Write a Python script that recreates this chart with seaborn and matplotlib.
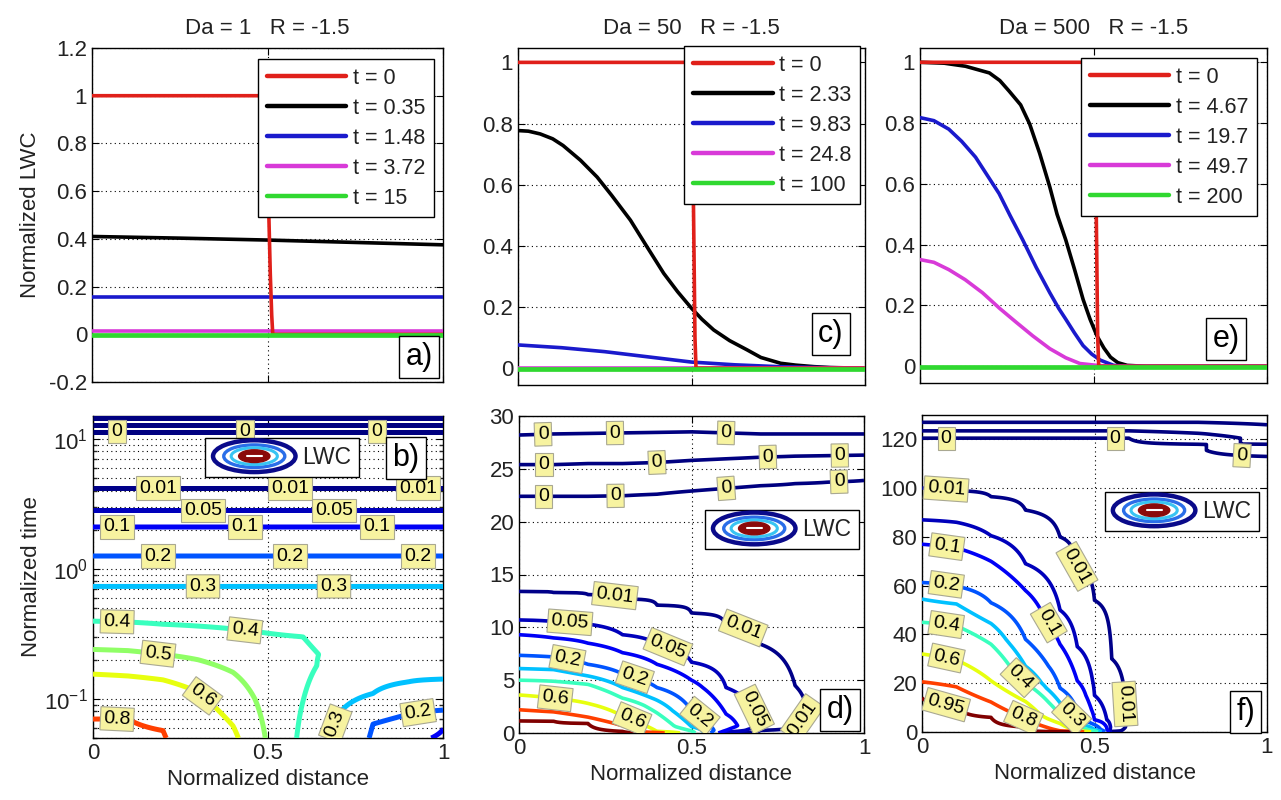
import numpy as np
import matplotlib
matplotlib.use("Agg")
import matplotlib.pyplot as plt
import seaborn as sns
from matplotlib.legend_handler import HandlerBase
from matplotlib.patches import Ellipse
from matplotlib.lines import Line2D
from matplotlib.ticker import FuncFormatter, LogLocator, NullFormatter, FixedLocator

# ------------------------------------------------------------------ data
titles = ["Da = 1   R = -1.5", "Da = 50   R = -1.5", "Da = 500   R = -1.5"]
letters_top = ["a)", "c)", "e)"]
letters_bot = ["b)", "d)", "f)"]
labels_a = ["t = 0", "t = 0.35", "t = 1.48", "t = 3.72", "t = 15"]
labels_c = ["t = 0", "t = 2.33", "t = 9.83", "t = 24.8", "t = 100"]
labels_e = ["t = 0", "t = 4.67", "t = 19.7", "t = 49.7", "t = 200"]
line_colors = ["#e0201a", "#000000", "#1a1acc", "#d83ad8", "#30d830"]

# panel a (Da = 1) profiles
a_red_x = [0, 0.5, 0.503, 0.508, 0.512, 0.515, 1.0]
a_red_y = [1.0, 1.0, 0.55, 0.25, 0.08, 0.0, 0.0]
a_black_x = [0, 0.25, 0.5, 0.75, 1.0]
a_black_y = [0.41, 0.403, 0.395, 0.385, 0.375]
a_blue_x = [0, 1.0]
a_blue_y = [0.158, 0.158]
a_mag_x = [0, 1.0]
a_mag_y = [0.012, 0.012]
a_green_x = [0, 1.0]
a_green_y = [-0.002, -0.002]

# panel c (Da = 50) profiles
c_red_x = [0, 0.5, 0.505, 0.508, 0.51, 0.513, 1.0]
c_red_y = [1.0, 1.0, 0.6, 0.3, 0.1, 0.0, 0.0]
c_black_x = [0, 0.03, 0.064, 0.1, 0.13, 0.18, 0.228, 0.27, 0.324, 0.37, 0.42, 0.46,
             0.5, 0.53, 0.564, 0.61, 0.66, 0.7, 0.757, 0.8, 0.853, 0.9, 1.0]
c_black_y = [0.777, 0.775, 0.766, 0.75, 0.728, 0.68, 0.625, 0.565, 0.484, 0.4, 0.31, 0.25,
             0.196, 0.16, 0.125, 0.09, 0.06, 0.035, 0.016, 0.01, 0.005, 0.002, 0.0]
c_blue_x = [0, 0.125, 0.25, 0.375, 0.5, 0.625, 0.75, 0.875, 1.0]
c_blue_y = [0.076, 0.067, 0.054, 0.037, 0.02, 0.011, 0.005, 0.002, 0.0]
c_mag_x = [0, 1.0]
c_mag_y = [0.002, 0.002]
c_green_x = [0, 1.0]
c_green_y = [-0.004, -0.004]

# panel e (Da = 500) profiles
e_red_x = [0, 0.505, 0.507, 0.51, 0.512, 0.515, 1.0]
e_red_y = [1.0, 1.0, 0.6, 0.3, 0.1, 0.0, 0.0]
e_black_x = [0, 0.07, 0.131, 0.2, 0.23, 0.257, 0.29, 0.316, 0.345, 0.374, 0.395, 0.42,
             0.445, 0.47, 0.49, 0.51, 0.53, 0.549, 0.57, 0.597, 0.65, 1.0]
e_black_y = [1.0, 0.997, 0.987, 0.965, 0.94, 0.905, 0.86, 0.797, 0.70, 0.59, 0.50, 0.416,
             0.32, 0.22, 0.155, 0.10, 0.06, 0.03, 0.012, 0.003, 0.0, 0.0]
e_blue_x = [0, 0.04, 0.083, 0.12, 0.16, 0.19, 0.228, 0.26, 0.296, 0.335, 0.374, 0.4,
            0.42, 0.445, 0.47, 0.495, 0.52, 0.558, 0.6, 1.0]
e_blue_y = [0.818, 0.808, 0.78, 0.74, 0.688, 0.635, 0.568, 0.495, 0.416, 0.325, 0.242, 0.19,
            0.155, 0.11, 0.068, 0.04, 0.02, 0.003, 0.0, 0.0]
e_mag_x = [0, 0.04, 0.083, 0.13, 0.18, 0.23, 0.277, 0.325, 0.374, 0.42, 0.461, 0.51, 0.55, 1.0]
e_mag_y = [0.351, 0.342, 0.318, 0.285, 0.242, 0.19, 0.145, 0.1, 0.058, 0.028, 0.009, 0.003, 0.0, 0.0]
e_green_x = [0, 1.0]
e_green_y = [-0.002, -0.002]

# contour levels
b_levels = [0, 0.01, 0.05, 0.1, 0.2, 0.3, 0.4, 0.5, 0.6, 0.8]
d_levels = [0, 0.01, 0.05, 0.1, 0.2, 0.3, 0.4, 0.6, 0.8, 0.95]
f_levels = [0, 0.01, 0.05, 0.1, 0.2, 0.3, 0.4, 0.6, 0.8, 0.95]

# panel b (Da = 1): LWC read along columns of normalized distance (log time)
b_x = [0.0, 0.1, 0.2, 0.3, 0.4, 0.5, 0.6, 0.7, 0.8, 0.9, 1.0]
b_t_early = [[0.05, 0.07, 0.155, 0.24, 0.396],
             [0.05, 0.07, 0.15, 0.235, 0.39],
             [0.05, 0.057, 0.09, 0.14, 0.22, 0.375],
             [0.05, 0.113, 0.2, 0.363],
             [0.05, 0.062, 0.16, 0.345],
             [0.05, 0.1, 0.2, 0.32],
             [0.05, 0.096, 0.18, 0.3],
             [0.05, 0.075, 0.22, 0.4],
             [0.05, 0.064, 0.11, 0.25],
             [0.05, 0.076, 0.135, 0.3],
             [0.05, 0.058, 0.082, 0.142, 0.3]]
b_c_early = [[0.85, 0.8, 0.6, 0.5, 0.4],
             [0.84, 0.8, 0.6, 0.5, 0.4],
             [0.81, 0.8, 0.7, 0.6, 0.5, 0.4],
             [0.7, 0.6, 0.5, 0.4],
             [0.62, 0.6, 0.5, 0.4],
             [0.49, 0.47, 0.44, 0.4],
             [0.38, 0.4, 0.42, 0.4],
             [0.28, 0.3, 0.385, 0.36],
             [0.19, 0.2, 0.3, 0.36],
             [0.12, 0.2, 0.3, 0.35],
             [0.09, 0.1, 0.2, 0.3, 0.35]]
b_t_late = [0.733, 1.256, 2.1, 2.82, 4.17, 8.0, 11.4, 12.1, 12.8, 13.6, 14.4, 15.0]
b_c_late = [0.3, 0.2, 0.1, 0.05, 0.01, 0.002, 0.0, -0.001, 0.0, 0.001, 0.0, -0.001]

# panel d (Da = 50)
d_x = [0.0, 0.1, 0.2, 0.3, 0.4, 0.5, 0.6, 0.7, 0.8, 0.9, 1.0]
d_t_cols = [
    [0, 1.15, 2.2, 3.6, 4.3, 5.0, 6.1, 7.35, 9.3, 10.7, 13.4, 18, 22.4, 23.9, 25.4, 26.8, 28.2, 30],
    [0, 1.12, 2.0, 3.3, 4.2, 4.9, 6.0, 7.2, 9.0, 10.55, 13.3, 18, 22.4, 23.9, 25.4, 26.8, 28.3, 30],
    [0, 0.9, 1.5, 2.8, 3.8, 4.6, 5.4, 6.5, 8.5, 10.3, 13.1, 18, 22.4, 23.9, 25.5, 26.9, 28.35, 30],
    [0, 0.15, 0.7, 1.6, 2.6, 3.3, 4.3, 5.6, 7.6, 9.3, 12.7, 18, 22.45, 23.95, 25.5, 27.0, 28.4, 30],
    [0, 0.05, 0.15, 0.7, 1.9, 3.1, 4.3, 6.5, 8.4, 12.1, 18, 22.6, 24.1, 25.6, 27.0, 28.45, 30],
    [0, 0.6, 2.1, 5.0, 6.7, 11.35, 18, 22.9, 24.35, 25.8, 27.15, 28.5, 30],
    [0, 0.1, 0.25, 0.7, 1.8, 4.3, 10.1, 18, 23.15, 24.55, 25.95, 27.2, 28.4, 30],
    [0, 0.25, 0.6, 1.5, 2.4, 5.0, 8.4, 18, 23.4, 24.75, 26.1, 27.2, 28.3, 30],
    [0, 0.76, 2.0, 4.5, 10, 18, 23.6, 24.9, 26.2, 27.25, 28.3, 30],
    [0, 1.5, 4, 10, 18, 23.75, 25.0, 26.25, 27.3, 28.3, 30],
    [0, 2, 5, 10, 18, 23.9, 25.1, 26.3, 27.3, 28.3, 30]]
d_c_cols = [
    [1, 0.95, 0.8, 0.6, 0.5, 0.4, 0.3, 0.2, 0.1, 0.05, 0.01, 0.003, 0, -0.0008, 0, 0.0008, 0, -0.001],
    [1, 0.95, 0.8, 0.6, 0.5, 0.4, 0.3, 0.2, 0.1, 0.05, 0.01, 0.003, 0, -0.0008, 0, 0.0008, 0, -0.001],
    [1, 0.95, 0.8, 0.6, 0.5, 0.4, 0.3, 0.2, 0.1, 0.05, 0.01, 0.003, 0, -0.0008, 0, 0.0008, 0, -0.001],
    [1, 0.95, 0.8, 0.6, 0.5, 0.4, 0.3, 0.2, 0.1, 0.05, 0.01, 0.003, 0, -0.0008, 0, 0.0008, 0, -0.001],
    [0.9, 0.8, 0.6, 0.5, 0.4, 0.3, 0.2, 0.1, 0.05, 0.01, 0.003, 0, -0.0008, 0, 0.0008, 0, -0.001],
    [0.45, 0.3, 0.2, 0.1, 0.05, 0.01, 0.003, 0, -0.0008, 0, 0.0008, 0, -0.001],
    [0.0005, 0.05, 0.1, 0.13, 0.1, 0.05, 0.01, 0.003, 0, -0.0008, 0, 0.0008, 0, -0.001],
    [0.0005, 0.01, 0.04, 0.047, 0.04, 0.02, 0.01, 0.003, 0, -0.0008, 0, 0.0008, 0, -0.001],
    [0.0005, 0.01, 0.013, 0.01, 0.005, 0.002, 0, -0.0008, 0, 0.0008, 0, -0.001],
    [0.0005, 0.005, 0.006, 0.004, 0.002, 0, -0.0008, 0, 0.0008, 0, -0.001],
    [0.0005, 0.003, 0.004, 0.003, 0.002, 0, -0.0008, 0, 0.0008, 0, -0.001]]

# panel f (Da = 500)
f_x = [0.0, 0.1, 0.2, 0.3, 0.4, 0.45, 0.5, 0.55, 0.6, 0.8, 1.0]
f_t_cols = [
    [0, 14, 20.6, 32, 45, 54.5, 61.3, 77, 87, 100, 110, 120.5, 122, 123.5, 125, 127, 130],
    [0, 11, 18.5, 29.5, 43.5, 52.5, 59.8, 75.5, 86, 99, 110, 120.5, 122, 123.5, 125, 127, 130],
    [0, 6, 12.3, 21, 36, 44.5, 53, 70, 80.5, 96.5, 110, 120.5, 122, 123.5, 125, 127, 130],
    [0, 2, 5.5, 12.5, 20, 27, 38, 58, 69, 91, 108, 120.5, 122, 123.5, 125, 127, 130],
    [0, 0.5, 3.5, 7, 12, 18, 36, 50, 80, 100, 120.5, 122, 123.5, 125, 127, 130],
    [0, 0.5, 2.5, 4, 9, 21, 35, 67, 95, 120.5, 122, 123.5, 125, 127, 130],
    [0, 1, 3, 5, 15, 54, 90, 120.5, 122, 123.5, 125, 127, 130],
    [0, 0.5, 2, 5, 30, 80, 120.5, 122, 123.5, 125, 127, 130],
    [0, 3, 20, 60, 100, 120.5, 122, 123.5, 125, 127, 130],
    [0, 20, 60, 100, 118, 120.5, 122.5, 124.5, 127, 130],
    [0, 20, 60, 100, 113, 115.5, 118, 122, 126, 130]]
f_c_cols = [
    [1, 0.95, 0.8, 0.6, 0.4, 0.3, 0.2, 0.1, 0.05, 0.01, 0.002, 0, -0.001, 0, 0.001, 0, -0.001],
    [1, 0.95, 0.8, 0.6, 0.4, 0.3, 0.2, 0.1, 0.05, 0.01, 0.002, 0, -0.001, 0, 0.001, 0, -0.001],
    [1, 0.95, 0.8, 0.6, 0.4, 0.3, 0.2, 0.1, 0.05, 0.01, 0.002, 0, -0.001, 0, 0.001, 0, -0.001],
    [1, 0.95, 0.8, 0.6, 0.4, 0.3, 0.2, 0.1, 0.05, 0.01, 0.002, 0, -0.001, 0, 0.001, 0, -0.001],
    [1, 0.8, 0.6, 0.4, 0.3, 0.2, 0.1, 0.05, 0.01, 0.002, 0, -0.001, 0, 0.001, 0, -0.001],
    [1, 0.6, 0.4, 0.3, 0.2, 0.1, 0.05, 0.01, 0.002, 0, -0.001, 0, 0.001, 0, -0.001],
    [0.5, 0.3, 0.2, 0.1, 0.05, 0.01, 0.002, 0, -0.001, 0, 0.001, 0, -0.001],
    [0.0005, 0.02, 0.035, 0.03, 0.01, 0.002, 0, -0.001, 0, 0.001, 0, -0.001],
    [0.0005, 0.005, 0.006, 0.003, 0.001, 0, -0.001, 0, 0.001, 0, -0.001],
    [0.0005, 0.002, 0.002, 0.001, 0, -0.001, 0, 0.001, 0, -0.001],
    [0.0005, 0.001, 0.001, 0.0008, 0, -0.001, 0, 0.001, 0, -0.001]]

# ------------------------------------------------------------------ style
sns.set_theme(style="ticks")
plt.rcParams["font.family"] = ["Liberation Sans", "DejaVu Sans"]
plt.rcParams["axes.unicode_minus"] = False
plt.rcParams["mathtext.default"] = "regular"
FS = 16
LFS = 15.5
CFS = 14
TXT = "#222222"

fig = plt.figure(figsize=(12.81, 8.0), dpi=100)
W, H = 1281.0, 800.0


def add_axes(l, r, t, b):
    return fig.add_axes([l / W, 1 - b / H, (r - l) / W, (b - t) / H])


ax_a = add_axes(92, 443, 48, 382)
ax_c = add_axes(518, 865, 48, 385)
ax_e = add_axes(920, 1267, 48, 383)
ax_b = add_axes(93, 443, 416, 738)
ax_d = add_axes(519, 864, 416, 733)
ax_f = add_axes(922, 1267, 415, 732)

gfmt = FuncFormatter(lambda v, p: f"{v:g}")


def style_axes(ax):
    ax.set_facecolor("white")
    for s in ax.spines.values():
        s.set_color("black")
        s.set_linewidth(1.0)
        s.set_visible(True)
    ax.tick_params(direction="in", length=5, width=0.8, top=True, right=True,
                   labelsize=FS, colors="black", labelcolor=TXT)
    ax.tick_params(which="minor", direction="in", length=3, top=True, right=True)
    ax.grid(True, which="major", linestyle=(0, (1, 3)), color="black", linewidth=0.8)


# ------------------------------------------------------------------ top row
top_specs = [
    (ax_a, labels_a, [(a_red_x, a_red_y), (a_black_x, a_black_y), (a_blue_x, a_blue_y),
                      (a_mag_x, a_mag_y), (a_green_x, a_green_y)],
     (-0.2, 1.2), np.arange(-0.2, 1.21, 0.2), (0.974, 0.967), (0.932, 0.075)),
    (ax_c, labels_c, [(c_red_x, c_red_y), (c_black_x, c_black_y), (c_blue_x, c_blue_y),
                      (c_mag_x, c_mag_y), (c_green_x, c_green_y)],
     (-0.055, 1.047), np.arange(0, 1.01, 0.2), (0.986, 1.006), (0.902, 0.151)),
    (ax_e, labels_e, [(e_red_x, e_red_y), (e_black_x, e_black_y), (e_blue_x, e_blue_y),
                      (e_mag_x, e_mag_y), (e_green_x, e_green_y)],
     (-0.055, 1.047), np.arange(0, 1.01, 0.2), (0.971, 0.97), (0.882, 0.131)),
]

for i, (ax, labs, series, ylim, yt, leg_anchor, let_pos) in enumerate(top_specs):
    style_axes(ax)
    handles = []
    for k, ((xs, ys), lab, col) in enumerate(zip(series, labs, line_colors)):
        lw = 3.4 if k == 4 else 2.6
        z = {0: 3.5, 4: 3.6}.get(k, 3)
        sns.lineplot(x=xs, y=ys, color=col, lw=lw, ax=ax, estimator=None, sort=False, zorder=z)
        handles.append(Line2D([], [], color=col, lw=3.2))
    ax.set_xlim(0, 1)
    ax.set_ylim(*ylim)
    ax.xaxis.set_major_locator(FixedLocator([0, 0.5, 1]))
    ax.yaxis.set_major_locator(FixedLocator(yt))
    ax.yaxis.set_major_formatter(gfmt)
    ax.set_xticklabels([])
    ax.set_title(titles[i], fontsize=FS, color=TXT, pad=10)
    leg = ax.legend(handles, labs, loc="upper right", bbox_to_anchor=leg_anchor,
                    borderaxespad=0, fontsize=LFS, frameon=True, fancybox=False,
                    edgecolor="black", framealpha=1, handlelength=3.7, handletextpad=0.3,
                    labelspacing=0.42, borderpad=0.4)
    leg.get_frame().set_linewidth(1.0)
    for t in leg.get_texts():
        t.set_color(TXT)
    ax.text(let_pos[0], let_pos[1], letters_top[i], transform=ax.transAxes, ha="center",
            va="center", fontsize=22, color="black", zorder=10,
            bbox=dict(boxstyle="square,pad=0.2", fc="white", ec="black", lw=1.0))

ax_a.set_ylabel("Normalized LWC", fontsize=FS, color=TXT, labelpad=6)


# ------------------------------------------------------------------ contour helpers
class LWCProxy:
    pass


class ContourIcon(HandlerBase):
    def create_artists(self, legend, orig_handle, xdescent, ydescent, width, height,
                       fontsize, trans):
        cx = width / 2 - xdescent
        cy = height / 2 - ydescent
        arts = []
        rings = [(1.0, 1.55, "#0a0a8a", 3.2), (0.74, 1.1, "#2a6ee8", 2.4),
                 (0.56, 0.82, "#38c4f2", 2.2)]
        for fw, fh, col, lw in rings:
            arts.append(Ellipse((cx, cy), width * fw, height * fh, fill=False,
                                edgecolor=col, lw=lw, transform=trans))
        arts.append(Ellipse((cx, cy), width * 0.38, height * 0.62, facecolor="#8a0a0a",
                            edgecolor="#8a0a0a", lw=1, transform=trans))
        arts.append(Line2D([cx - width * 0.09, cx + width * 0.09], [cy, cy], color="white",
                           lw=1.5, transform=trans))
        return arts


def build_field(cols_t, cols_c, t_fine, log=False):
    cols = []
    for tk, ck in zip(cols_t, cols_c):
        if log:
            cols.append(np.interp(np.log10(t_fine), np.log10(tk), ck))
        else:
            cols.append(np.interp(t_fine, tk, ck))
    return np.column_stack(cols)


def label_points(ax, cs, base, phase, by_x=False, min_len=25, gap=(42, 24), margin=(24, 14)):
    """Pick label anchor points lying on the drawn contour paths (display-space walk)."""
    fig.canvas.draw()
    x0, y0, x1, y1 = ax.bbox.extents
    inv = ax.transData.inverted()
    pts = []
    used = []
    for k, segs in enumerate(cs.allsegs):
        sh = (k % 3) * phase
        targets = [f + sh for f in base if f + sh <= 1.0]
        for seg in segs:
            if len(seg) < 2:
                continue
            disp0 = ax.transData.transform(seg)
            d0 = np.r_[0, np.cumsum(np.hypot(*np.diff(disp0, axis=0).T))]
            if d0[-1] < min_len:
                continue
            # walk along the path every pixel
            s = np.arange(0, d0[-1], 1.0)
            disp = np.column_stack([np.interp(s, d0, disp0[:, 0]), np.interp(s, d0, disp0[:, 1])])
            inside = ((disp[:, 0] > x0 + margin[0]) & (disp[:, 0] < x1 - margin[0]) &
                      (disp[:, 1] > y0 + margin[1]) & (disp[:, 1] < y1 - margin[1]))
            if not inside.any():
                continue
            cand = np.where(inside)[0]
            for tg in targets:
                if by_x:
                    tx = x0 + tg * (x1 - x0)
                    if tx < disp[:, 0].min() - 10 or tx > disp[:, 0].max() + 10:
                        continue
                    j = cand[np.argmin(np.abs(disp[cand, 0] - tx))]
                else:
                    j = min(int(np.searchsorted(s, tg * s[-1])), len(s) - 1)
                    if not inside[j]:
                        j = cand[np.argmin(np.abs(cand - j))]
                px, py = disp[j]
                if any(abs(px - ux) < gap[0] and abs(py - uy) < gap[1] for ux, uy in used):
                    continue
                used.append((px, py))
                pts.append(tuple(inv.transform((px, py))))
    return pts


def draw_contours(ax, x, t_fine, Z, levels, lw, base, phase, by_x=False):
    cs = ax.contour(x, t_fine, Z, levels=levels, cmap="jet", vmin=0, vmax=0.95,
                    linewidths=lw, zorder=3)
    pts = label_points(ax, cs, base, phase, by_x=by_x)
    texts = ax.clabel(cs, manual=pts, inline=False, fmt=lambda v: f"{v:g}",
                      fontsize=CFS, colors="black", zorder=6)
    for t in texts:
        t.set_bbox(dict(boxstyle="square,pad=0.16", fc="#f7f3a0", ec="#a9a892", lw=0.8))
        t.set_zorder(6)
    return cs


# ------------------------------------------------------------------ bottom row
# panel b
style_axes(ax_b)
ax_b.set_yscale("log")
ax_b.set_xlim(0, 1)
ax_b.set_ylim(0.05, 15)
b_t_cols = [te + b_t_late for te in b_t_early]
b_c_cols = [ce + b_c_late for ce in b_c_early]
tb_fine = np.logspace(np.log10(0.05), np.log10(15), 700)
Zb = build_field(b_t_cols, b_c_cols, tb_fine, log=True)
draw_contours(ax_b, b_x, tb_fine, Zb, b_levels, 3.6, [0.06, 0.435, 0.81], 0.127, by_x=True)
ax_b.yaxis.set_major_locator(LogLocator(base=10, numticks=10))
ax_b.yaxis.set_minor_locator(LogLocator(base=10, subs=np.arange(2, 10), numticks=10))
ax_b.yaxis.set_minor_formatter(NullFormatter())
ax_b.grid(True, which="minor", axis="y", linestyle=(0, (1, 3)), color="black", linewidth=0.8)
ax_b.set_ylabel("Normalized time", fontsize=FS, color=TXT, labelpad=2)

# panel d
style_axes(ax_d)
ax_d.set_xlim(0, 1)
ax_d.set_ylim(0, 30)
td_fine = np.linspace(0, 30, 901)
Zd = build_field(d_t_cols, d_c_cols, td_fine)
draw_contours(ax_d, d_x, td_fine, Zd, d_levels, 2.6, [0.05, 0.4, 0.72, 0.98], 0.06)
ax_d.yaxis.set_major_locator(FixedLocator(np.arange(0, 31, 5)))

# panel f
style_axes(ax_f)
ax_f.set_xlim(0, 1)
ax_f.set_ylim(0, 130)
tf_fine = np.linspace(0, 130, 1301)
Zf = build_field(f_t_cols, f_c_cols, tf_fine)
draw_contours(ax_f, f_x, tf_fine, Zf, f_levels, 2.6, [0.05, 0.45, 0.95], 0.05)
ax_f.yaxis.set_major_locator(FixedLocator(np.arange(0, 121, 20)))

bot_specs = [(ax_b, (0.32, 0.932), (0.894, 0.87)),
             (ax_d, (0.539, 0.703), (0.93, 0.073)),
             (ax_f, (0.53, 0.757), (0.939, 0.063))]
for i, (ax, leg_anchor, let_pos) in enumerate(bot_specs):
    ax.xaxis.set_major_locator(FixedLocator([0, 0.5, 1]))
    ax.xaxis.set_major_formatter(gfmt)
    if ax is not ax_b:
        ax.yaxis.set_major_formatter(gfmt)
    ax.set_xlabel("Normalized distance", fontsize=FS, color=TXT, labelpad=4)
    leg = ax.legend([LWCProxy()], ["LWC"], handler_map={LWCProxy: ContourIcon()},
                    loc="upper left", bbox_to_anchor=leg_anchor, borderaxespad=0,
                    fontsize=LFS + 1, frameon=True, fancybox=False, edgecolor="black",
                    framealpha=1, handlelength=3.6, handleheight=1.0, handletextpad=0.3,
                    borderpad=0.35)
    leg.get_frame().set_linewidth(1.0)
    leg.set_zorder(8)
    for t in leg.get_texts():
        t.set_color(TXT)
    ax.text(let_pos[0], let_pos[1], letters_bot[i], transform=ax.transAxes, ha="center",
            va="center", fontsize=22, color="black", zorder=10,
            bbox=dict(boxstyle="square,pad=0.2", fc="white", ec="black", lw=1.0))

fig.savefig("out.png", dpi=100, facecolor="white")
